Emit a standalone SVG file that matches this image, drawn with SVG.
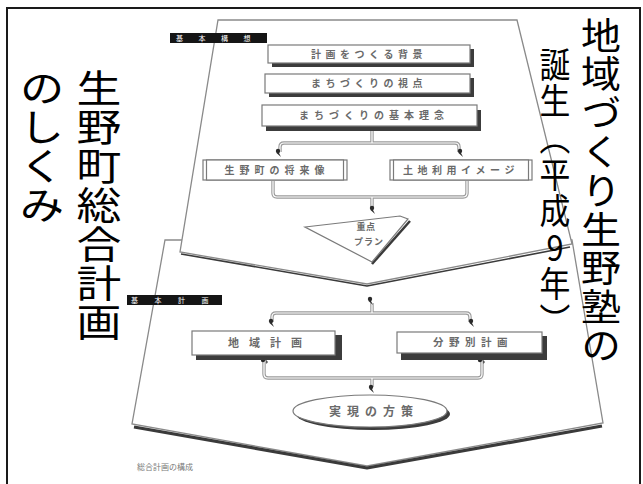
<svg xmlns="http://www.w3.org/2000/svg" xmlns:xlink="http://www.w3.org/1999/xlink" width="643" height="484" viewBox="0 0 643 484">
<style>
  .sheet { fill: #ffffff; stroke: #8a8a8a; stroke-width: 1.3; }
  .shadowline { fill: none; stroke: #3a3a3a; stroke-linejoin: round; }
  .box { fill: #ffffff; stroke: #7a7a7a; stroke-width: 1.2; }
  .boxshadow { fill: #3c3c3c; }
  .lbl { font-family: "Noto Sans CJK JP", "Noto Sans", sans-serif; font-weight: bold; fill: #6a6a6a; text-anchor: middle; }
  .bar { fill: #151515; }
  .barlbl { font-family: "Noto Sans CJK JP", sans-serif; font-size: 7px; fill: #ffffff; }
  .dbl-o { fill: none; stroke: #9a9a9a; stroke-width: 3.4; }
  .dbl-i { fill: none; stroke: #ffffff; stroke-width: 1.2; }
  .big { font-family: "Noto Sans CJK JP", "Noto Sans", sans-serif; fill: #000000; writing-mode: vertical-rl; text-orientation: upright; }
  .cap { font-family: "Noto Sans CJK JP", sans-serif; font-size: 8px; fill: #7a7a7a; }
</style>
<defs>
  <g id="ahd">
    <circle cx="0" cy="-2" r="2.2" fill="#2a2a2a"/>
    <path d="M-1.5,0 L3,4 L1,0 Z" fill="#2a2a2a"/>
  </g>
  <g id="ahu">
    <circle cx="0" cy="2" r="2.2" fill="#2a2a2a"/>
    <path d="M1.5,0 L3.5,6 L5,4 Z" fill="#555"/>
  </g>
  <path id="c1" d="M280,152 L280,147 Q280,143 284,143 L455,143 Q459,143 459,147 L459,152 M372,131 L372,143"/>
  <path id="c2" d="M273,181 L273,193 Q273,197 277,197 L463,197 Q467,197 467,193 L467,181 M372,197 L372,207"/>
  <path id="c3" d="M372,303 L372,313 M272,322 L272,317 Q272,313 276,313 L466,313 Q470,313 470,317 L470,322"/>
  <path id="c4" d="M264,362 L264,374 Q264,378 268,378 L478,378 Q482,378 482,374 L482,362 M372,378 L372,387"/>
</defs>

<rect x="7" y="8" width="633" height="500" fill="#ffffff" stroke="#1a1a1a" stroke-width="2"/>

<g id="lower-sheet">
  <polygon class="sheet" points="165,240 572,240 603,423 367,466 132,424"/>
  <polyline class="shadowline" stroke-width="3.2" points="134,427 367,468 602,426"/>
  <rect class="bar" x="127" y="295" width="95" height="10"/>
  <text class="barlbl" x="131" y="303" letter-spacing="16.5">基本計画</text>
  <text class="cap" x="137" y="470">総合計画の構成</text>
</g>

<g id="upper-sheet">
  <polygon class="sheet" points="218,20 517,20 572,244 367,284 180,252"/>
  <polyline class="shadowline" stroke="#6a6a6a" stroke-width="1.6" points="181,254 367,286 570,247"/>
  <rect class="bar" x="170" y="33" width="97" height="10"/>
  <text class="barlbl" x="176" y="41" letter-spacing="15.5">基本構想</text>
</g>

<g id="connectors">
  <use xlink:href="#c1" class="dbl-o"/><use xlink:href="#c1" class="dbl-i"/>
  <use xlink:href="#c2" class="dbl-o"/><use xlink:href="#c2" class="dbl-i"/>
  <use xlink:href="#c3" class="dbl-o"/><use xlink:href="#c3" class="dbl-i"/>
  <use xlink:href="#c4" class="dbl-o"/><use xlink:href="#c4" class="dbl-i"/>
  <use xlink:href="#ahd" x="278" y="153"/>
  <use xlink:href="#ahd" x="460" y="153"/>
  <use xlink:href="#ahd" x="372" y="210"/>
  <use xlink:href="#ahd" x="370" y="301"/>
  <use xlink:href="#ahd" x="271" y="323"/>
  <use xlink:href="#ahd" x="471" y="323"/>
  <use xlink:href="#ahu" x="263" y="358"/>
  <use xlink:href="#ahu" x="480" y="358"/>
  <use xlink:href="#ahd" x="371" y="389"/>
</g>

<g id="n-haikei">
  <rect class="boxshadow" x="272" y="49" width="202" height="18"/>
  <rect class="box" x="268" y="45" width="202" height="18"/>
  <text class="lbl" x="369" y="58" font-size="10" letter-spacing="4.5">計画をつくる背景</text>
</g>
<g id="n-shiten">
  <rect class="boxshadow" x="269" y="78" width="205" height="19"/>
  <rect class="box" x="265" y="74" width="205" height="19"/>
  <text class="lbl" x="369" y="87" font-size="10" letter-spacing="4.5">まちづくりの視点</text>
</g>
<g id="n-rinen">
  <rect class="boxshadow" x="266" y="110" width="215" height="21"/>
  <rect class="box" x="262" y="105" width="215" height="21"/>
  <text class="lbl" x="374" y="119" font-size="10" letter-spacing="5">まちづくりの基本理念</text>
</g>
<g id="n-shoraizo">
  <rect class="box" x="203" y="160" width="144" height="20" stroke-width="1.6"/>
  <rect class="box" x="206.5" y="160" width="137" height="20" fill="none"/>
  <text class="lbl" x="277" y="174" font-size="10" letter-spacing="5">生野町の将来像</text>
</g>
<g id="n-tochi">
  <rect class="box" x="390" y="160" width="142" height="20" stroke-width="1.6"/>
  <rect class="box" x="393.5" y="160" width="135" height="20" fill="none"/>
  <text class="lbl" x="461" y="174" font-size="10" letter-spacing="4.5">土地利用イメージ</text>
</g>
<g id="n-juten">
  <polyline class="shadowline" stroke-width="2.5" points="410,221 372,264"/>
  <polygon class="box" points="305,227 400,216 408,219 372,262"/>
  <text class="lbl" x="366" y="230" font-size="9" letter-spacing="0.5">重点</text>
  <text class="lbl" x="369" y="245" font-size="9" letter-spacing="1">プラン</text>
</g>
<g id="n-chiiki">
  <rect class="boxshadow" x="196" y="335" width="146" height="25"/>
  <rect class="box" x="192" y="331" width="143" height="24"/>
  <text class="lbl" x="270" y="347" font-size="11" letter-spacing="10">地域計画</text>
</g>
<g id="n-bunya">
  <rect class="boxshadow" x="401" y="336" width="146" height="24"/>
  <rect class="box" x="397" y="332" width="145" height="21"/>
  <text class="lbl" x="473" y="346" font-size="10.5" letter-spacing="5.5">分野別計画</text>
</g>
<g id="n-hosaku">
  <ellipse cx="373" cy="414" rx="77" ry="16" fill="#3c3c3c"/>
  <ellipse class="box" cx="370" cy="411" rx="77" ry="16"/>
  <text class="lbl" x="374" y="416" font-size="12" letter-spacing="6">実現の方策</text>
</g>

<g id="title-left">
  <text class="big" font-size="38" letter-spacing="1" transform="translate(99,0) scale(1.18,1)" x="0" y="69">生野町総合計画</text>
  <text class="big" font-size="38" letter-spacing="1" transform="translate(42,0) scale(1.18,1)" x="0" y="69">のしくみ</text>
</g>
<g id="title-right">
  <text class="big" font-size="37" letter-spacing="1.8" transform="translate(601,0) scale(1.08,1)" x="0" y="17">地域づくり生野塾の</text>
  <text class="big" font-size="35" letter-spacing="1.6" transform="translate(555,0) scale(0.88,1)" x="0" y="47">誕生（平成9年）</text>
</g>
</svg>
